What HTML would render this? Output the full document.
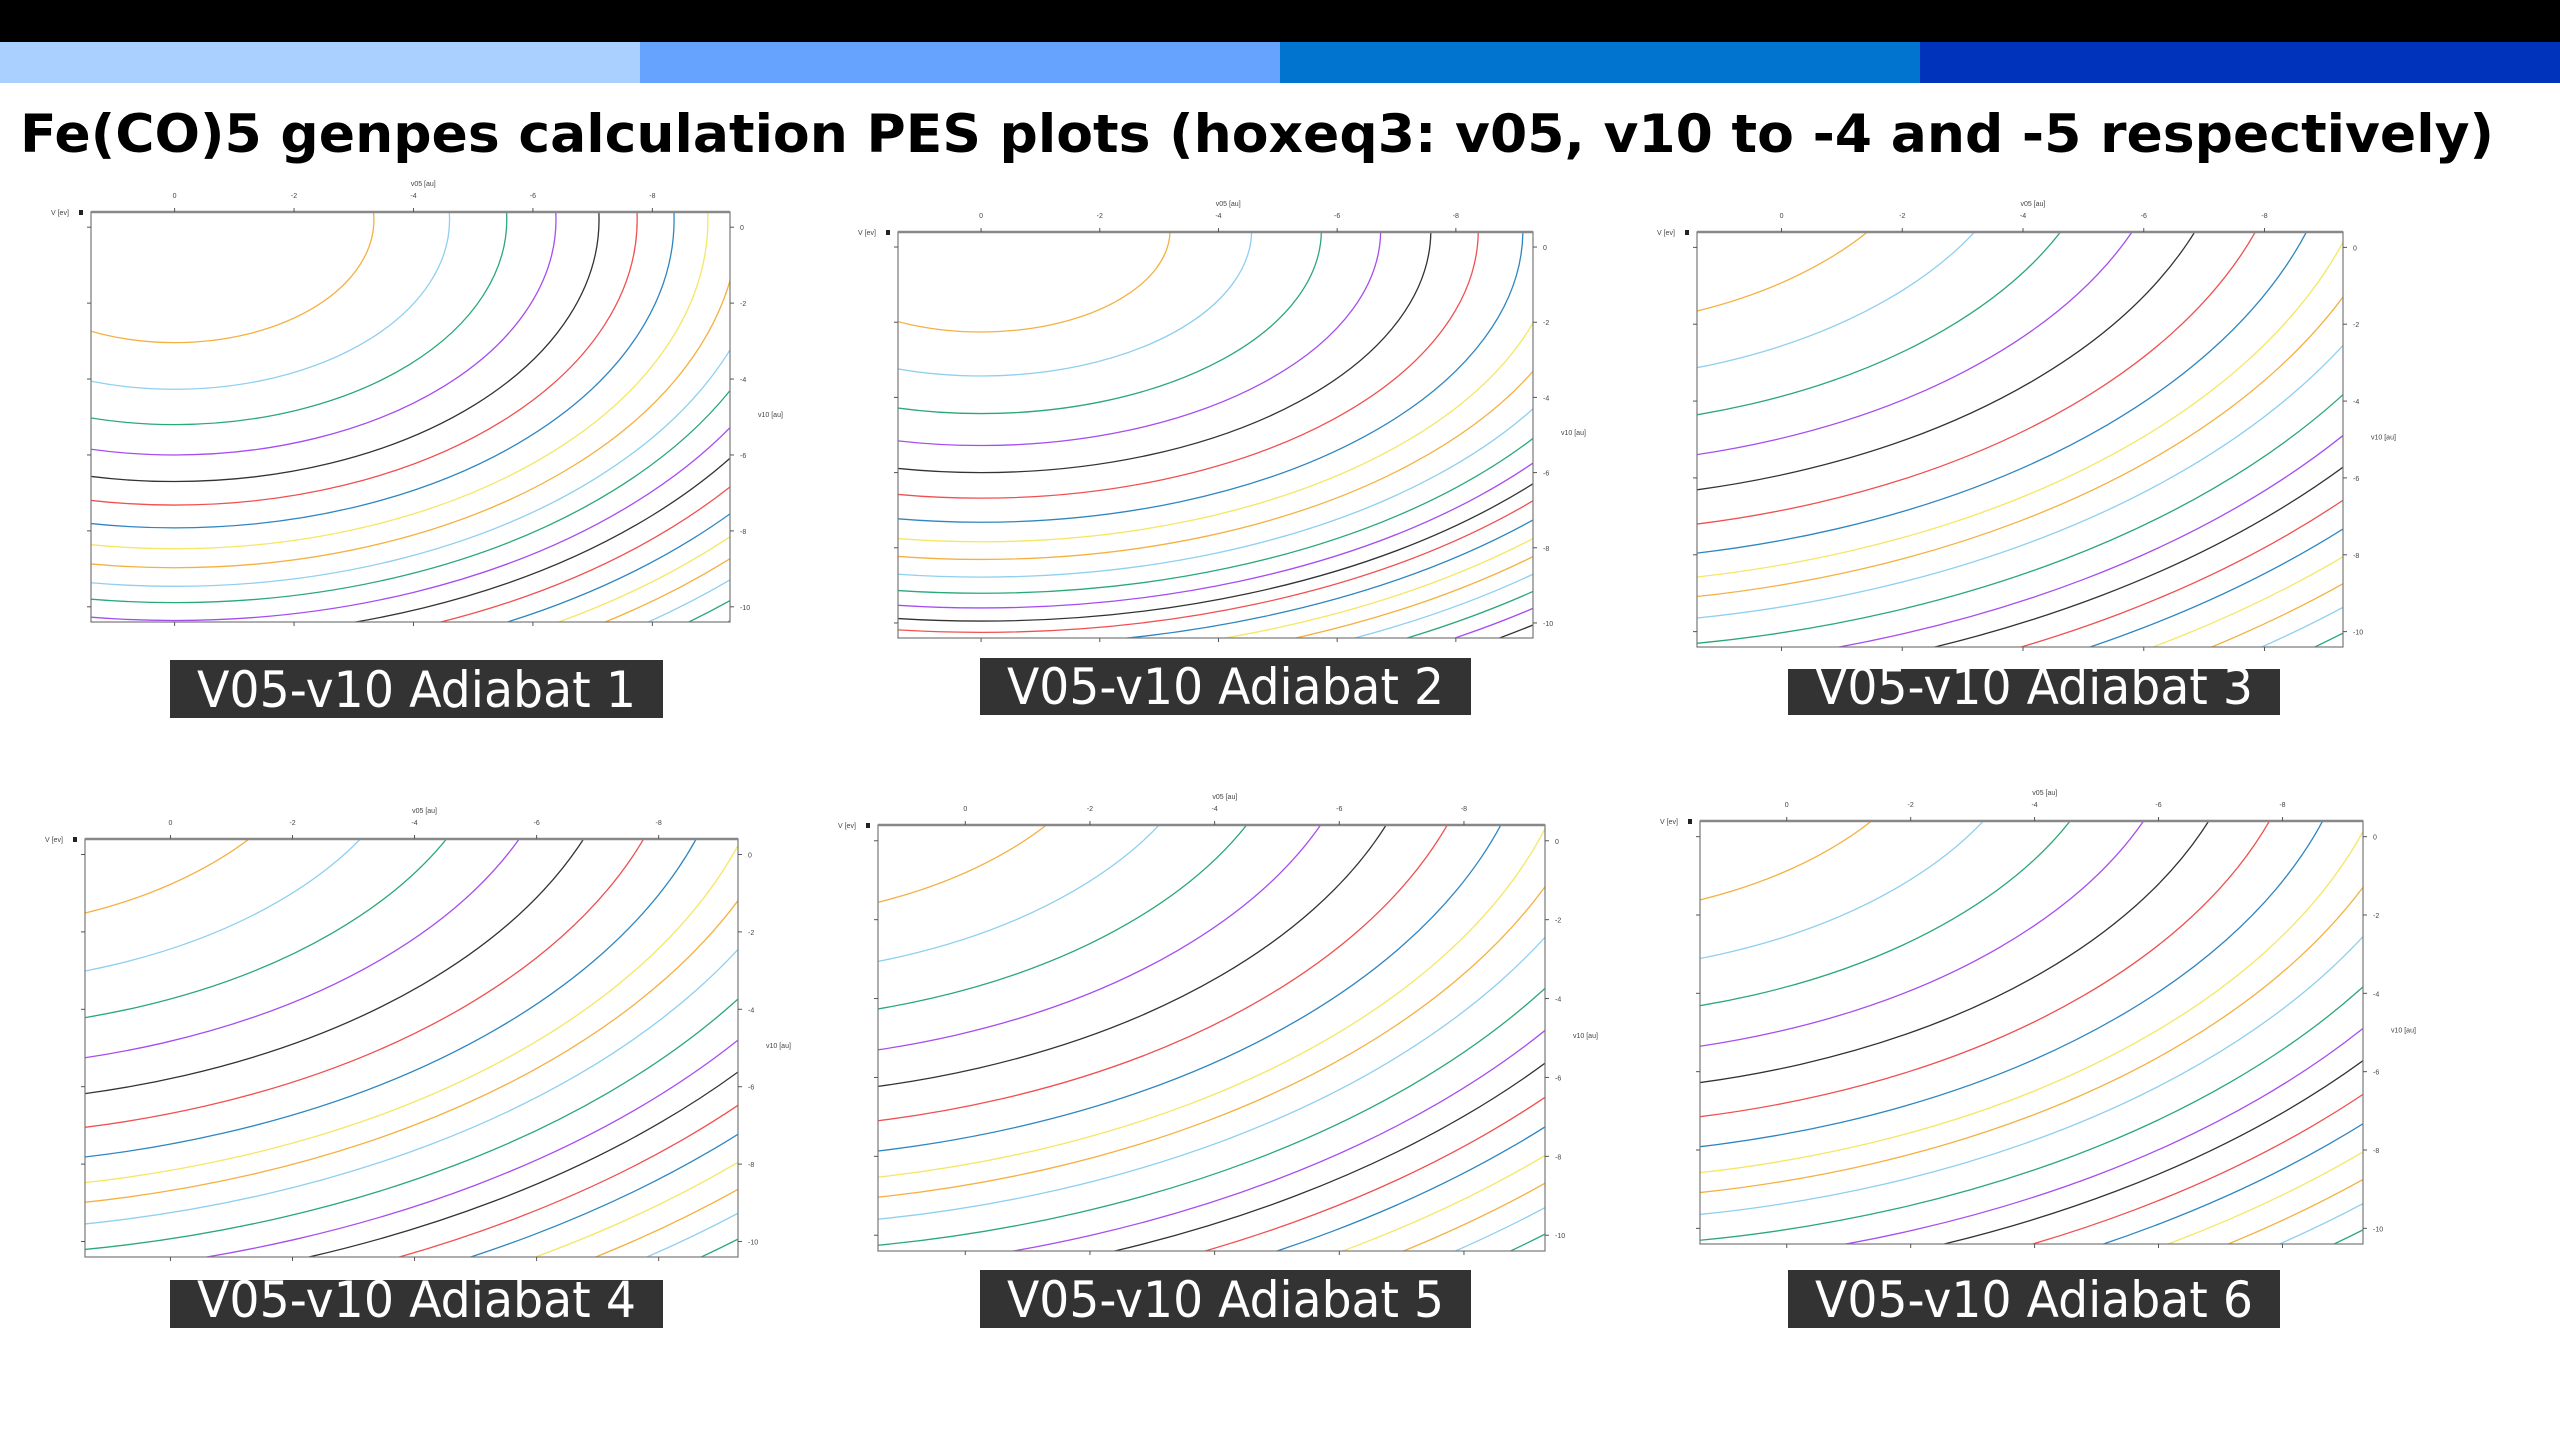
<!DOCTYPE html>
<html><head><meta charset="utf-8"><style>
html,body{margin:0;padding:0;background:#fff;}
svg{display:block;}
</style></head><body>
<svg id="page" width="2560" height="1440" viewBox="0 0 2560 1440" xmlns="http://www.w3.org/2000/svg">
<rect x="0" y="0" width="2560" height="42" fill="#000"/>
<rect x="0" y="42" width="640" height="41" fill="#aad0ff"/>
<rect x="640" y="42" width="640" height="41" fill="#66a3ff"/>
<rect x="1280" y="42" width="640" height="41" fill="#0074cf"/>
<rect x="1920" y="42" width="640" height="41" fill="#0033bb"/>
<text x="20" y="152" font-family="'DejaVu Sans','Liberation Sans',sans-serif" font-weight="bold" font-size="53" textLength="2474" lengthAdjust="spacingAndGlyphs">Fe(CO)5 genpes calculation PES plots (hoxeq3: v05, v10 to -4 and -5 respectively)</text>
<g id="plots"></g>
</svg>
<script>
// Contour data: ellipse centers (data units), x-stretch, and contour radii
const plotTitles = ["V05-v10 Adiabat 1","V05-v10 Adiabat 2","V05-v10 Adiabat 3","V05-v10 Adiabat 4","V05-v10 Adiabat 5","V05-v10 Adiabat 6"];
const centerX = [0, 0, 4.0, 4.0, 4.0, 4.0];
const centerY = [0.2, 0.45, 4.0, 4.1, 4.0, 4.0];
const stretchX = [1.03, 1.175, 1.09, 1.09, 1.09, 1.09];
const radii1 = [3.24,4.47,5.4,6.2,6.9,7.52,8.12,8.67,9.17,9.66,10.09,10.56,11.0,11.45,11.9,12.3,12.7,13.1,13.5,13.9];
const radii2 = [2.71,3.88,4.88,5.73,6.45,7.13,7.77,8.29,8.76,9.23,9.66,10.05,10.4,10.7,11.05,11.4,11.75,12.1,12.45,12.8,13.15];
const radii3 = [6.14,7.52,8.69,9.69,10.58,11.45,12.19,12.8,13.3,13.85,14.5,15.1,15.6,16.15,16.65,17.15,17.65,18.1,18.6];
const radii4 = [6.1,7.5,8.65,9.65,10.55,11.4,12.15,12.8,13.3,13.85,14.5,15.1,15.6,16.15,16.65,17.15,17.65,18.1,18.6];
const radii5 = [6.05,7.45,8.6,9.6,10.5,11.35,12.1,12.75,13.25,13.8,14.45,15.05,15.55,16.1,16.6,17.1,17.6,18.05,18.55];
const radii6 = [6.1,7.5,8.65,9.65,10.55,11.4,12.15,12.8,13.3,13.85,14.5,15.1,15.6,16.15,16.65,17.15,17.65,18.1,18.6];
const radiiAll = [radii1,radii2,radii3,radii4,radii5,radii6];
const xTicks = [0,-2,-4,-6,-8];
const yTicks = [0,-2,-4,-6,-8,-10];
const xTickLabels = ["0","-2","-4","-6","-8"];
const yTickLabels = ["0","-2","-4","-6","-8","-10"];
const contourColors = ["#f5b041","#8fcfef","#2aa876","#a64df0","#333333","#f05050","#2e86c1","#f5e663"];

const boxes = [
 {x:91,y:212,w:639,h:410,lx:170,ly:660,lw:493,lh:58},
 {x:898,y:232,w:635,h:406,lx:980,ly:658,lw:491,lh:57},
 {x:1697,y:232,w:646,h:415,lx:1788,ly:669,lw:492,lh:46},
 {x:85,y:839,w:653,h:418,lx:170,ly:1280,lw:493,lh:48},
 {x:878,y:825,w:667,h:426,lx:980,ly:1270,lw:491,lh:58},
 {x:1700,y:821,w:663,h:423,lx:1788,ly:1270,lw:492,lh:58}
];
const NS = "http://www.w3.org/2000/svg";
const root = document.getElementById('plots');
function mk(tag, attrs, parent){const e=document.createElementNS(NS,tag);for(const k in attrs)e.setAttribute(k,attrs[k]);(parent||root).appendChild(e);return e;}
const X0=1.4, X1=-9.3, Y0=0.4, Y1=-10.4;
boxes.forEach((b,i)=>{
  const g = mk('g',{});
  
  
  const sx = v => b.x + (v-X0)/(X1-X0)*b.w;
  const sy = v => b.y + (v-Y0)/(Y1-Y0)*b.h;
  const pxX = b.w/Math.abs(X1-X0), pxY = b.h/Math.abs(Y1-Y0);
  const cp = mk('clipPath',{id:'clip'+i},g);
  mk('rect',{x:b.x,y:b.y,width:b.w,height:b.h},cp);
  const bg = mk('rect',{x:b.x,y:b.y,width:b.w,height:b.h,fill:'#fff'},g);
  
  
  const cg = mk('g',{'clip-path':'url(#clip'+i+')'},g);
  radiiAll[i].forEach((r,k)=>{
    const e = mk('ellipse',{cx:sx(centerX[i]),cy:sy(centerY[i]),rx:r*stretchX[i]*pxX,ry:r*pxY,fill:'none',stroke:contourColors[k%8],'stroke-width':1.3},cg);
    
    
  });
  mk('rect',{x:b.x,y:b.y,width:b.w,height:b.h,fill:'none',stroke:'#777','stroke-width':1.2},g);
  mk('line',{x1:b.x,y1:b.y,x2:b.x+b.w,y2:b.y,stroke:'#888','stroke-width':2.5},g);
  xTicks.forEach((t,k)=>{
    mk('line',{x1:sx(t),y1:b.y,x2:sx(t),y2:b.y-4,stroke:'#555'},g);
    mk('line',{x1:sx(t),y1:b.y+b.h,x2:sx(t),y2:b.y+b.h+4,stroke:'#555'},g);
    const tl = mk('text',{x:sx(t),y:b.y-14,'font-size':7,'text-anchor':'middle','font-family':'Liberation Sans,sans-serif',fill:'#444'},g);
    tl.textContent = xTickLabels[k];
    
    
  });
  yTicks.forEach((t,k)=>{
    mk('line',{x1:b.x+b.w,y1:sy(t),x2:b.x+b.w+4,y2:sy(t),stroke:'#555'},g);
    mk('line',{x1:b.x,y1:sy(t),x2:b.x-4,y2:sy(t),stroke:'#555'},g);
    const tl = mk('text',{x:b.x+b.w+10,y:sy(t)+3,'font-size':7,'font-family':'Liberation Sans,sans-serif',fill:'#444'},g);
    tl.textContent = yTickLabels[k];
    
    
  });
  const xt = mk('text',{x:b.x+b.w*0.52,y:b.y-26,'font-size':7,'text-anchor':'middle','font-family':'Liberation Sans,sans-serif',fill:'#444'},g);
  xt.textContent='v05 [au]';
  
  
  const yt = mk('text',{x:b.x+b.w+28,y:b.y+b.h*0.5,'font-size':7,'font-family':'Liberation Sans,sans-serif',fill:'#444'},g);
  yt.textContent='v10 [au]';
  
  
  const vt = mk('text',{x:b.x-40,y:b.y+3,'font-size':7,'font-family':'Liberation Sans,sans-serif',fill:'#444'},g);
  vt.textContent='V [ev]';
  
  
  mk('rect',{x:b.x-12,y:b.y-2,width:4,height:5,fill:'#222'},g);
  const lb = mk('rect',{x:b.lx,y:b.ly,width:b.lw,height:b.lh,fill:'#333'},g);
  
  
  const lt = mk('text',{x:b.lx+b.lw/2,y:b.ly+b.lh-11,'font-size':50,'text-anchor':'middle','font-family':"'DejaVu Sans','Liberation Sans',sans-serif",fill:'#fff',textLength:b.lw-54,lengthAdjust:'spacingAndGlyphs'},g);
  lt.textContent = plotTitles[i];
  
  
});
</script>
</body></html>
